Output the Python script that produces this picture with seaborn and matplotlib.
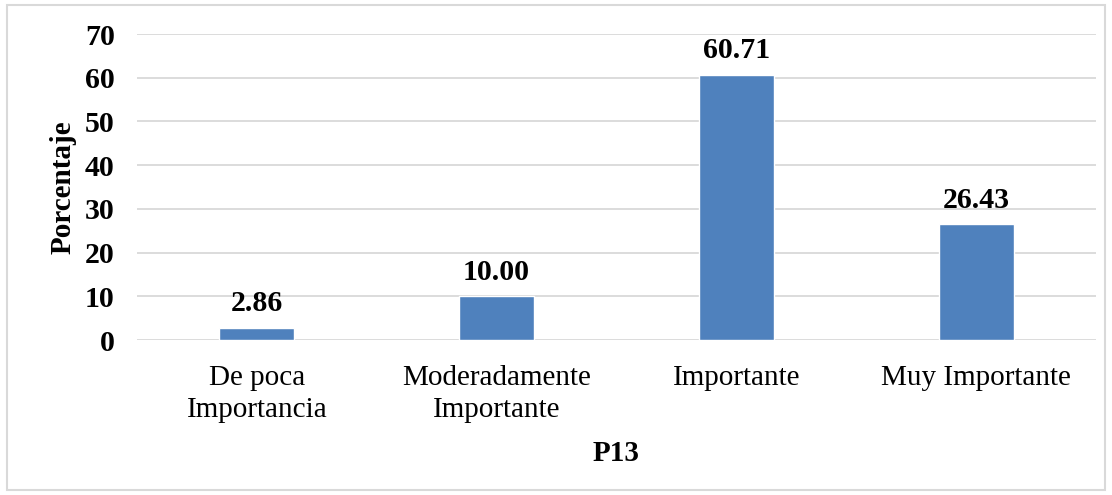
import matplotlib
matplotlib.use("Agg")
import matplotlib.pyplot as plt
import seaborn as sns
import pandas as pd
from matplotlib.patches import Rectangle

categories = ["De poca\nImportancia", "Moderadamente\nImportante", "Importante", "Muy Importante"]
values = [2.86, 10.00, 60.71, 26.43]
yticks = [0, 10, 20, 30, 40, 50, 60, 70]

sns.set_theme(style="white")
plt.rcParams["font.family"] = ["Liberation Serif", "DejaVu Serif"]
plt.rcParams["text.color"] = "black"
plt.rcParams["axes.labelcolor"] = "black"
plt.rcParams["xtick.color"] = "black"
plt.rcParams["ytick.color"] = "black"

df = pd.DataFrame({"categoria": categories, "porcentaje": values})

fig = plt.figure(figsize=(11.12, 4.95), dpi=100)
ax = fig.add_axes([0.1232, 0.3131, 0.8624, 0.6182])

sns.barplot(data=df, x="categoria", y="porcentaje", color="#4F81BD",
            width=0.3125, saturation=1, ax=ax, zorder=3)

ax.set_ylim(0, 70)
ax.set_yticks(yticks)
ax.set_yticklabels([str(t) for t in yticks], fontsize=21.5, fontweight="bold")
ax.tick_params(axis="x", length=0, pad=18, colors="black")
for lbl in ax.get_xticklabels():
    lbl.set_fontsize(21)
    lbl.set_linespacing(1.3)
ax.tick_params(axis="y", length=0, pad=16, colors="black")
ax.yaxis.grid(True, color="#D9D9D9", linewidth=1.3, zorder=0)
ax.set_axisbelow(True)
for s in ax.spines.values():
    s.set_visible(False)

ax.set_xlabel("P13", fontsize=21, fontweight="bold", labelpad=12, color="black")
ax.set_ylabel("Porcentaje", fontsize=21, fontweight="bold", labelpad=6, color="black")

for i, v in enumerate(values):
    ax.text(i, v + 2.4, f"{v:.2f}", ha="center", va="bottom",
            fontsize=21.5, fontweight="bold", color="black")

fig.patches.append(Rectangle((0.0063, 0.0101), 0.987, 0.98, transform=fig.transFigure,
                             fill=False, edgecolor="#D9D9D9", linewidth=1.5))

fig.savefig("out.png", dpi=100)
